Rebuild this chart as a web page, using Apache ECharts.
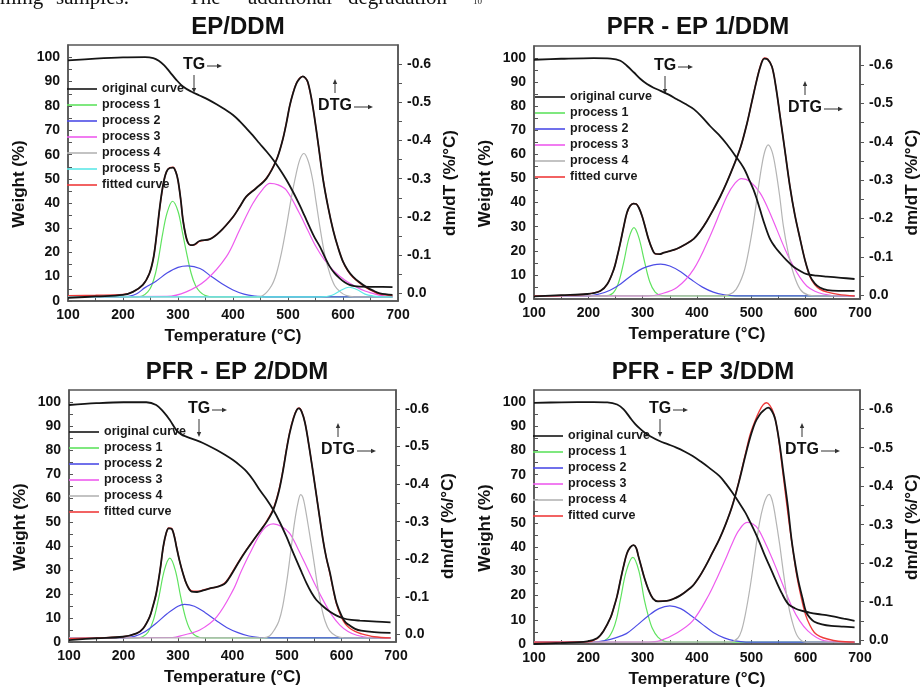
<!DOCTYPE html>
<html>
<head>
<meta charset="utf-8">
<script src="https://cdn.jsdelivr.net/npm/echarts@6/dist/echarts.min.js"></script>
<style>
html, body { margin: 0; padding: 0; background: #fff; }
#main { width: 922px; height: 689px; }
</style>
</head>
<body>
<div id="main"></div>
<script>
// tick labels
var tempTicks = [100, 200, 300, 400, 500, 600, 700];
var tempMinor = [100, 150, 200, 250, 300, 350, 400, 450, 500, 550, 600, 650, 700];
var weightTicks = [0, 10, 20, 30, 40, 50, 60, 70, 80, 90, 100];
var weightMinor = [0, 5, 10, 15, 20, 25, 30, 35, 40, 45, 50, 55, 60, 65, 70, 75, 80, 85, 90, 95, 100];
var dtgTicks = [-0.6, -0.5, -0.4, -0.3, -0.2, -0.1, 0];
var dtgMinor = [-0.6, -0.55, -0.5, -0.45, -0.4, -0.35, -0.3, -0.25, -0.2, -0.15, -0.1, -0.05, 0];

var legendNames4 = ['original curve', 'process 1', 'process 2', 'process 3', 'process 4', 'fitted curve'];
var legendNames5 = ['original curve', 'process 1', 'process 2', 'process 3', 'process 4', 'process 5', 'fitted curve'];

// ---- EP/DDM ----
var p1Tg = [[100,98.7],[150,99.4],[200,99.9],[240,100],[255,99.6],[265,98.5],[275,96.6],[285,94],[297,90.7],[309,88],[324,85.9],[339,84.3],[355,82.6],[370,80.7],[385,78.6],[400,76.3],[412,73.8],[424,70.9],[436,67.9],[448,64.7],[461,61.3],[473,57.9],[485,54],[497,49.7],[509,44.8],[521,39.4],[530,35],[539,30.5],[548,26.2],[558,22.3],[567,18],[576,14.1],[585,11.3],[594,9.3],[603,7.7],[612,6.6],[621,6.1],[630,5.9],[660,5.8],[690,5.7]];
var p1Dtg = [[100,0.012],[150,0.008],[200,0.004],[218,-0.004],[236,-0.022],[248,-0.052],[255,-0.09],[260,-0.14],[267,-0.227],[273,-0.285],[279,-0.318],[285,-0.328],[291,-0.329],[296,-0.318],[300,-0.296],[305,-0.245],[309,-0.192],[314,-0.152],[318,-0.133],[323,-0.126],[330,-0.128],[339,-0.137],[358,-0.142],[376,-0.161],[400,-0.2],[412,-0.226],[424,-0.253],[442,-0.275],[461,-0.301],[479,-0.349],[490,-0.4],[497,-0.445],[503,-0.49],[509,-0.523],[515,-0.548],[521,-0.562],[527,-0.568],[532,-0.563],[536,-0.553],[542,-0.515],[548,-0.462],[556,-0.38],[564,-0.296],[573,-0.225],[582,-0.166],[591,-0.12],[600,-0.083],[609,-0.06],[618,-0.044],[630,-0.029],[642,-0.017],[655,-0.007],[667,0.0],[690,0.004]];
var p1Fit = [[100,0.006],[150,0.005],[200,0.003],[218,-0.004],[236,-0.022],[248,-0.052],[255,-0.09],[260,-0.14],[267,-0.225],[273,-0.284],[279,-0.318],[285,-0.329],[291,-0.33],[296,-0.318],[300,-0.296],[305,-0.245],[309,-0.193],[314,-0.152],[318,-0.133],[323,-0.126],[330,-0.127],[339,-0.136],[358,-0.142],[376,-0.161],[400,-0.2],[412,-0.226],[424,-0.253],[442,-0.276],[461,-0.302],[479,-0.35],[490,-0.4],[497,-0.446],[503,-0.49],[509,-0.524],[515,-0.549],[521,-0.563],[527,-0.568],[532,-0.563],[536,-0.552],[542,-0.514],[548,-0.462],[556,-0.38],[564,-0.297],[573,-0.225],[582,-0.166],[591,-0.12],[600,-0.083],[609,-0.058],[618,-0.042],[630,-0.027],[642,-0.015],[655,-0.005],[667,0.002],[690,0.006]];
var p1P1 = [[100,0.009],[225,0.009],[235,0.007],[245,-0.004],[252,-0.02],[259,-0.052],[265,-0.095],[272,-0.155],[280,-0.21],[290,-0.241],[300,-0.215],[308,-0.16],[315,-0.11],[324,-0.052],[332,-0.02],[340,-0.004],[350,0.006],[360,0.009],[690,0.009]];
var p1P2 = [[100,0.009],[200,0.009],[210,0.008],[225,0.001],[240,-0.015],[260,-0.032],[280,-0.053],[300,-0.068],[318,-0.072],[340,-0.065],[360,-0.045],[380,-0.025],[400,-0.009],[420,0.002],[440,0.007],[460,0.009],[690,0.009]];
var p1P3 = [[100,0.009],[280,0.008],[315,-0.004],[351,-0.035],[388,-0.096],[412,-0.166],[436,-0.235],[455,-0.274],[467,-0.288],[482,-0.284],[497,-0.27],[521,-0.209],[536,-0.165],[551,-0.122],[566,-0.088],[582,-0.061],[603,-0.035],[624,-0.017],[640,-0.006],[654,0.0],[670,0.006],[690,0.008]];
var p1P4 = [[100,0.009],[440,0.009],[455,0.005],[470,-0.02],[479,-0.052],[488,-0.105],[497,-0.174],[506,-0.25],[515,-0.314],[522,-0.352],[529,-0.366],[537,-0.345],[545,-0.296],[551,-0.24],[558,-0.174],[567,-0.1],[576,-0.052],[585,-0.02],[595,-0.004],[605,0.005],[620,0.009],[690,0.009]];
var p1P5 = [[100,0.009],[560,0.009],[580,0.005],[595,-0.007],[605,-0.014],[611,-0.016],[618,-0.014],[628,-0.008],[640,0.002],[655,0.007],[670,0.009],[690,0.009]];

// ---- PFR - EP 1/DDM ----
var p2Tg = [[100,99.3],[150,99.7],[210,100],[241,99.8],[259,98.9],[271,96.8],[284,94],[296,91.3],[308,89.2],[320,87.7],[333,86.4],[348,84.8],[363,82.9],[378,81],[394,78.8],[409,75.6],[424,71.8],[440,68.2],[455,64.2],[470,59.6],[486,54.4],[495,50],[504,45.4],[510,41.5],[516,37.1],[525,30.6],[535,24.6],[544,21.5],[553,19],[565,16],[577,13.5],[590,11.6],[602,10.3],[620,9.7],[639,9.3],[665,8.8],[690,8.3]];
var p2Dtg = [[100,0.003],[150,0.0],[198,-0.003],[222,-0.011],[235,-0.029],[247,-0.068],[253,-0.1],[259,-0.137],[265,-0.178],[271,-0.215],[277,-0.233],[283,-0.239],[288,-0.238],[293,-0.228],[299,-0.206],[305,-0.176],[311,-0.145],[317,-0.122],[323,-0.108],[331,-0.107],[339,-0.111],[350,-0.115],[363,-0.121],[378,-0.132],[394,-0.147],[406,-0.167],[418,-0.193],[430,-0.223],[443,-0.258],[455,-0.295],[467,-0.336],[480,-0.385],[492,-0.448],[501,-0.505],[510,-0.561],[517,-0.598],[524,-0.617],[530,-0.615],[538,-0.596],[545,-0.545],[553,-0.466],[562,-0.375],[571,-0.284],[580,-0.21],[590,-0.145],[599,-0.09],[608,-0.05],[617,-0.03],[626,-0.02],[640,-0.013],[660,-0.011],[690,-0.011]];
var p2Fit = [[100,0.002],[150,0.001],[198,-0.003],[222,-0.011],[235,-0.029],[247,-0.068],[253,-0.1],[259,-0.137],[265,-0.178],[271,-0.214],[277,-0.233],[283,-0.239],[288,-0.238],[293,-0.228],[299,-0.206],[305,-0.176],[311,-0.145],[317,-0.122],[323,-0.108],[331,-0.107],[339,-0.111],[350,-0.115],[363,-0.121],[378,-0.132],[394,-0.147],[406,-0.167],[418,-0.193],[430,-0.223],[443,-0.258],[455,-0.295],[467,-0.336],[480,-0.385],[492,-0.448],[501,-0.505],[510,-0.562],[517,-0.6],[524,-0.619],[530,-0.616],[538,-0.596],[545,-0.545],[553,-0.466],[562,-0.375],[571,-0.284],[580,-0.21],[590,-0.145],[599,-0.09],[608,-0.048],[617,-0.027],[626,-0.016],[640,-0.008],[660,-0.002],[690,0.002]];
var p2P1 = [[100,0.002],[230,0.002],[245,-0.005],[255,-0.03],[265,-0.085],[275,-0.15],[284,-0.176],[293,-0.15],[303,-0.09],[313,-0.035],[323,-0.008],[335,0.001],[350,0.002],[690,0.002]];
var p2P2 = [[100,0.002],[200,0.002],[220,-0.003],[240,-0.013],[260,-0.03],[280,-0.052],[300,-0.07],[320,-0.079],[333,-0.081],[350,-0.076],[370,-0.061],[390,-0.04],[410,-0.021],[430,-0.008],[450,-0.001],[470,0.002],[690,0.002]];
var p2P3 = [[100,0.002],[310,0.002],[333,-0.003],[363,-0.02],[394,-0.068],[424,-0.154],[455,-0.258],[470,-0.292],[482,-0.304],[498,-0.296],[516,-0.267],[531,-0.225],[547,-0.171],[562,-0.12],[577,-0.076],[590,-0.045],[602,-0.024],[617,-0.01],[632,-0.003],[660,0.002],[690,0.002]];
var p2P4 = [[100,0.002],[445,0.002],[460,-0.002],[472,-0.015],[486,-0.059],[495,-0.115],[504,-0.189],[512,-0.27],[519,-0.336],[525,-0.376],[531,-0.392],[538,-0.375],[544,-0.336],[552,-0.26],[559,-0.18],[568,-0.11],[577,-0.059],[590,-0.015],[605,0.0],[620,0.002],[690,0.002]];

// ---- PFR - EP 2/DDM ----
var p3Tg = [[100,98.75],[150,99.5],[200,99.9],[242,99.9],[260,98.75],[273,96],[285,92.5],[297,88.3],[306,86.5],[315,85.6],[340,83.5],[355,81.9],[371,80],[386,78],[401,75.8],[414,73.5],[426,71],[438,67.5],[450,63.3],[463,59.3],[475,55],[487,49.8],[499,43.9],[508,39],[517,34.2],[527,29],[536,24.4],[545,20.5],[554,17.5],[567,14.7],[579,12.6],[591,11],[603,9.9],[618,9.2],[634,8.9],[665,8.5],[690,8.2]];
var p3Dtg = [[100,0.015],[150,0.01],[199,0.006],[224,-0.003],[236,-0.016],[248,-0.047],[254,-0.075],[260,-0.109],[267,-0.17],[273,-0.234],[278,-0.268],[283,-0.282],[288,-0.281],[293,-0.262],[297,-0.234],[303,-0.195],[309,-0.163],[316,-0.133],[325,-0.114],[335,-0.113],[348,-0.118],[360,-0.123],[373,-0.127],[385,-0.134],[393,-0.148],[401,-0.167],[413,-0.196],[426,-0.225],[438,-0.25],[450,-0.274],[463,-0.3],[475,-0.332],[485,-0.38],[493,-0.438],[499,-0.49],[505,-0.536],[512,-0.575],[518,-0.597],[522,-0.601],[527,-0.592],[533,-0.563],[540,-0.505],[548,-0.429],[557,-0.34],[566,-0.252],[572,-0.205],[579,-0.163],[585,-0.12],[591,-0.083],[600,-0.05],[607,-0.033],[614,-0.025],[625,-0.015],[636,-0.01],[660,-0.006],[690,-0.004]];
var p3Fit = [[100,0.011],[150,0.009],[199,0.006],[224,-0.003],[236,-0.016],[248,-0.047],[254,-0.075],[260,-0.109],[267,-0.17],[273,-0.232],[278,-0.267],[283,-0.283],[288,-0.282],[293,-0.263],[297,-0.235],[303,-0.195],[309,-0.163],[316,-0.133],[325,-0.116],[335,-0.115],[348,-0.119],[360,-0.123],[373,-0.127],[385,-0.136],[393,-0.15],[401,-0.169],[413,-0.198],[426,-0.226],[438,-0.25],[450,-0.274],[463,-0.302],[475,-0.335],[485,-0.383],[493,-0.44],[499,-0.492],[505,-0.538],[512,-0.577],[518,-0.598],[522,-0.602],[527,-0.593],[533,-0.563],[540,-0.505],[548,-0.429],[557,-0.34],[566,-0.252],[572,-0.205],[579,-0.16],[585,-0.118],[591,-0.08],[600,-0.045],[607,-0.028],[614,-0.018],[625,-0.008],[636,-0.002],[660,0.006],[690,0.009]];
var p3P1 = [[100,0.009],[225,0.009],[235,0.006],[245,-0.006],[255,-0.039],[265,-0.1],[275,-0.171],[285,-0.203],[295,-0.171],[305,-0.1],[315,-0.039],[325,-0.006],[340,0.008],[350,0.009],[690,0.009]];
var p3P2 = [[100,0.009],[200,0.009],[220,0.005],[240,-0.008],[260,-0.03],[280,-0.055],[300,-0.075],[312,-0.08],[330,-0.075],[350,-0.058],[370,-0.037],[390,-0.018],[410,-0.005],[430,0.004],[450,0.008],[470,0.009],[690,0.009]];
var p3P3 = [[100,0.009],[290,0.008],[309,0.002],[340,-0.012],[371,-0.047],[401,-0.118],[416,-0.168],[432,-0.216],[456,-0.278],[475,-0.294],[490,-0.287],[505,-0.269],[520,-0.228],[536,-0.18],[551,-0.134],[566,-0.092],[582,-0.052],[597,-0.025],[612,-0.008],[628,0.002],[650,0.008],[690,0.009]];
var p3P4 = [[100,0.009],[455,0.009],[468,0.004],[478,-0.015],[485,-0.035],[492,-0.074],[500,-0.145],[508,-0.234],[514,-0.3],[520,-0.349],[525,-0.372],[529,-0.365],[533,-0.34],[540,-0.28],[548,-0.207],[556,-0.13],[563,-0.074],[570,-0.035],[578,-0.01],[590,0.004],[605,0.009],[690,0.009]];

// ---- PFR - EP 3/DDM ----
var p4Tg = [[100,99.7],[150,99.9],[210,100],[235,99.9],[253,99],[265,97],[277,93.5],[286,91],[295,89],[304,87.3],[313,86],[331,83.9],[346,82.6],[362,81.2],[377,79.6],[392,77.7],[407,75.4],[422,72.9],[441,69.5],[453,66.3],[465,62.6],[477,58.6],[489,54.3],[498,50.3],[507,46.1],[516,41.5],[525,36.5],[535,31.5],[544,26.8],[556,21],[568,16.5],[580,14.8],[592,13.8],[607,13],[622,12.4],[638,11.9],[653,11.3],[670,10.5],[690,9.6]];
var p4Dtg = [[100,0.01],[150,0.007],[198,0.003],[216,-0.005],[228,-0.024],[241,-0.059],[247,-0.085],[253,-0.115],[259,-0.155],[265,-0.193],[271,-0.225],[277,-0.241],[283,-0.247],[288,-0.24],[292,-0.219],[298,-0.188],[304,-0.158],[311,-0.13],[319,-0.108],[328,-0.101],[344,-0.102],[356,-0.107],[368,-0.115],[380,-0.127],[392,-0.141],[404,-0.164],[416,-0.193],[428,-0.226],[441,-0.262],[453,-0.302],[465,-0.349],[477,-0.41],[489,-0.479],[498,-0.527],[507,-0.565],[515,-0.585],[522,-0.596],[531,-0.604],[538,-0.595],[544,-0.574],[552,-0.51],[559,-0.435],[567,-0.35],[574,-0.262],[580,-0.205],[586,-0.158],[594,-0.11],[601,-0.072],[608,-0.058],[616,-0.048],[630,-0.041],[647,-0.037],[670,-0.035],[690,-0.033]];
var p4Fit = [[100,0.005],[150,0.005],[198,0.004],[216,-0.004],[228,-0.024],[241,-0.059],[247,-0.085],[253,-0.115],[259,-0.155],[265,-0.193],[271,-0.225],[277,-0.241],[283,-0.247],[288,-0.24],[292,-0.219],[298,-0.188],[304,-0.158],[311,-0.13],[319,-0.108],[328,-0.101],[344,-0.102],[356,-0.107],[368,-0.115],[380,-0.127],[392,-0.141],[404,-0.164],[416,-0.193],[428,-0.226],[441,-0.262],[453,-0.302],[465,-0.35],[477,-0.412],[489,-0.483],[498,-0.535],[507,-0.57],[515,-0.596],[522,-0.612],[528,-0.617],[534,-0.61],[541,-0.59],[548,-0.545],[555,-0.47],[562,-0.39],[570,-0.3],[577,-0.23],[584,-0.165],[592,-0.11],[600,-0.065],[608,-0.038],[616,-0.02],[626,-0.01],[640,-0.003],[660,0.003],[690,0.005]];
var p4P1 = [[100,0.005],[220,0.005],[235,-0.004],[245,-0.026],[252,-0.056],[259,-0.105],[270,-0.18],[282,-0.215],[293,-0.18],[303,-0.105],[310,-0.065],[318,-0.03],[328,-0.008],[340,0.003],[355,0.005],[690,0.005]];
var p4P2 = [[100,0.005],[210,0.005],[230,0.001],[250,-0.006],[270,-0.017],[290,-0.039],[310,-0.063],[330,-0.082],[350,-0.089],[370,-0.082],[390,-0.063],[410,-0.041],[430,-0.02],[450,-0.006],[470,0.002],[490,0.005],[690,0.005]];
var p4P3 = [[100,0.005],[310,0.005],[331,0.002],[362,-0.018],[392,-0.05],[422,-0.118],[438,-0.165],[453,-0.212],[465,-0.252],[477,-0.285],[492,-0.306],[503,-0.302],[513,-0.288],[528,-0.245],[544,-0.193],[559,-0.14],[574,-0.089],[589,-0.05],[604,-0.024],[620,-0.007],[635,0.002],[660,0.005],[690,0.005]];
var p4P4 = [[100,0.005],[460,0.005],[475,-0.005],[482,-0.025],[489,-0.067],[498,-0.14],[507,-0.228],[515,-0.305],[522,-0.349],[528,-0.372],[533,-0.379],[539,-0.36],[544,-0.323],[552,-0.25],[559,-0.176],[567,-0.1],[574,-0.055],[585,-0.01],[600,0.005],[690,0.005]];

var FONT = 'Liberation Sans';
var procColors = ['#5fe35f', '#4d4de6', '#ee5cee', '#b4b4b4', '#5ee8e8'];
var axisColor = '#555';

var panels = [
    { title: 'EP/DDM', box: [68, 45, 330, 256], titleAt: [233, 10], dtgRange: [-0.65, 0.02],
      tg: p1Tg, dtg: p1Dtg, fit: p1Fit, procs: [p1P1, p1P2, p1P3, p1P4, p1P5],
      legend: legendNames5, legendAt: [67, 82], tgAt: [194, 65], dtgAt: [335, 106] },
    { title: 'PFR - EP 1/DDM', box: [534, 46, 328, 253], titleAt: [693, 10], dtgRange: [-0.65, 0.01],
      tg: p2Tg, dtg: p2Dtg, fit: p2Fit, procs: [p2P1, p2P2, p2P3, p2P4],
      legend: legendNames4, legendAt: [535, 90], tgAt: [665, 66], dtgAt: [805, 108] },
    { title: 'PFR - EP 2/DDM', box: [69, 390, 327, 252], titleAt: [232, 355], dtgRange: [-0.65, 0.02],
      tg: p3Tg, dtg: p3Dtg, fit: p3Fit, procs: [p3P1, p3P2, p3P3, p3P4],
      legend: legendNames4, legendAt: [69, 425], tgAt: [199, 409], dtgAt: [338, 450] },
    { title: 'PFR - EP 3/DDM', box: [534, 390, 330, 255], titleAt: [698, 355], dtgRange: [-0.65, 0.01],
      tg: p4Tg, dtg: p4Dtg, fit: p4Fit, procs: [p4P1, p4P2, p4P3, p4P4],
      legend: legendNames4, legendAt: [533, 429], tgAt: [660, 409], dtgAt: [802, 450] }
];

var myChart = echarts.init(document.getElementById('main'));

var tickFont = { color: '#111', fontSize: 14, fontWeight: 'bold', fontFamily: FONT };
var nameFont = { color: '#111', fontSize: 17, fontWeight: 'bold', fontFamily: FONT };
var axisLine = { show: true, onZero: false, lineStyle: { color: axisColor, width: 1.5 } };

function lineSeries(name, data, xi, yi, color, width) {
    return {
        type: 'line', name: name, data: data, xAxisIndex: xi, yAxisIndex: yi,
        symbol: 'none', smooth: 0.35, clip: true,
        lineStyle: { color: color, width: width },
        itemStyle: { color: color }
    };
}

// small arrow: line + triangle head
function arrow(x1, y1, x2, y2) {
    var dx = x2 - x1, dy = y2 - y1, len = Math.sqrt(dx * dx + dy * dy);
    var ux = dx / len, uy = dy / len, hl = 5, hw = 2.2;
    var bx = x2 - ux * hl, by = y2 - uy * hl;
    return [
        { type: 'line', shape: { x1: x1, y1: y1, x2: bx, y2: by }, style: { stroke: '#333', lineWidth: 1 } },
        { type: 'polygon', shape: { points: [[x2, y2], [bx - uy * hw, by + ux * hw], [bx + uy * hw, by - ux * hw]] }, style: { fill: '#333' } }
    ];
}

var grids = [], xAxes = [], yAxes = [], series = [], titles = [], legends = [], graphics = [];

panels.forEach(function (p, i) {
    grids.push({ left: p.box[0], top: p.box[1], width: p.box[2], height: p.box[3],
        show: true, borderColor: axisColor, borderWidth: 1.5 });

    titles.push({ text: p.title, left: p.titleAt[0], top: p.titleAt[1], textAlign: 'center',
        textStyle: { fontSize: 24, fontWeight: 'bold', color: '#111', fontFamily: FONT } });

    xAxes.push({
        gridIndex: i, type: 'value', min: 100, max: 700,
        name: 'Temperature (°C)', nameLocation: 'middle', nameGap: 27, nameTextStyle: nameFont,
        axisLine: axisLine,
        axisTick: { show: true, inside: true, length: 4, customValues: tempMinor, lineStyle: { color: axisColor } },
        axisLabel: { customValues: tempTicks, margin: 7, textStyle: tickFont },
        splitLine: { show: false }
    });

    yAxes.push({
        gridIndex: i, type: 'value', position: 'left', min: 0, max: 105,
        name: 'Weight (%)', nameLocation: 'middle', nameGap: 40, nameRotate: 90,
        nameTextStyle: Object.assign({ padding: [0, 22, 0, 0] }, nameFont),
        axisLine: axisLine,
        axisTick: { show: true, inside: true, length: 4, customValues: weightMinor, lineStyle: { color: axisColor } },
        axisLabel: { customValues: weightTicks, margin: 8, textStyle: tickFont },
        splitLine: { show: false }
    });

    yAxes.push({
        gridIndex: i, type: 'value', position: 'right', inverse: true,
        min: p.dtgRange[0], max: p.dtgRange[1],
        name: 'dm/dT (%/°C)', nameLocation: 'middle', nameGap: 44, nameRotate: 90,
        nameTextStyle: Object.assign({ padding: [0, 20, 0, 0] }, nameFont),
        axisLine: axisLine,
        axisTick: { show: true, inside: false, length: 4, customValues: dtgMinor, lineStyle: { color: axisColor } },
        axisLabel: { customValues: dtgTicks, margin: 9, textStyle: tickFont,
            formatter: function (v) { return Math.abs(v) < 1e-9 ? '0.0' : v.toFixed(1); } },
        splitLine: { show: false }
    });

    var yl = 2 * i, yr = 2 * i + 1;
    p.procs.forEach(function (d, k) {
        series.push(lineSeries('process ' + (k + 1), d, i, yr, procColors[k], 1.2));
    });
    series.push(lineSeries('fitted curve', p.fit, i, yr, '#ef3b3b', 1.4));
    series.push(lineSeries('original curve', p.dtg, i, yr, '#151515', 1.8));
    series.push(lineSeries('original curve', p.tg, i, yl, '#151515', 1.8));

    legends.push({
        orient: 'vertical', left: p.legendAt[0], top: p.legendAt[1], padding: 0,
        icon: 'rect', itemWidth: 30, itemHeight: 1.6, itemGap: 2, selectedMode: false,
        data: p.legend,
        textStyle: { fontSize: 12.5, lineHeight: 14, fontWeight: 'bold', color: '#1a1a1a', fontFamily: FONT }
    });

    // TG / DTG annotations
    var t = p.tgAt, d = p.dtgAt;
    graphics.push({ type: 'text', x: t[0], y: t[1], style: { text: 'TG', fill: '#111', font: 'bold 16px ' + FONT, textAlign: 'center', textVerticalAlign: 'middle' } });
    graphics = graphics.concat(arrow(t[0] + 13, t[1] + 1, t[0] + 28, t[1] + 1));
    graphics = graphics.concat(arrow(t[0], t[1] + 10, t[0], t[1] + 28));
    graphics.push({ type: 'text', x: d[0], y: d[1], style: { text: 'DTG', fill: '#111', font: 'bold 16px ' + FONT, textAlign: 'center', textVerticalAlign: 'middle' } });
    graphics = graphics.concat(arrow(d[0] + 19, d[1] + 1, d[0] + 38, d[1] + 1));
    graphics = graphics.concat(arrow(d[0], d[1] - 13, d[0], d[1] - 27));
});

// cut-off line of the page text above the figure
var pageWords = [['ming', 0], ['samples.', 56], ['The', 188], ['additional', 248], ['degradation', 348]];
pageWords.forEach(function (w) {
    graphics.push({ type: 'text', x: w[1], y: 9, style: { text: w[0], fill: '#111', font: '21px Liberation Serif', textVerticalAlign: 'bottom' } });
});
graphics.push({ type: 'text', x: 473, y: 6, style: { text: '10', fill: '#222', font: '9px Liberation Serif', textVerticalAlign: 'bottom' } });

var option = {
    animation: false,
    backgroundColor: '#fff',
    textStyle: { fontFamily: FONT },
    title: titles,
    legend: legends,
    grid: grids,
    xAxis: xAxes,
    yAxis: yAxes,
    series: series,
    graphic: { elements: graphics }
};

myChart.setOption(option);
</script>
</body>
</html>
